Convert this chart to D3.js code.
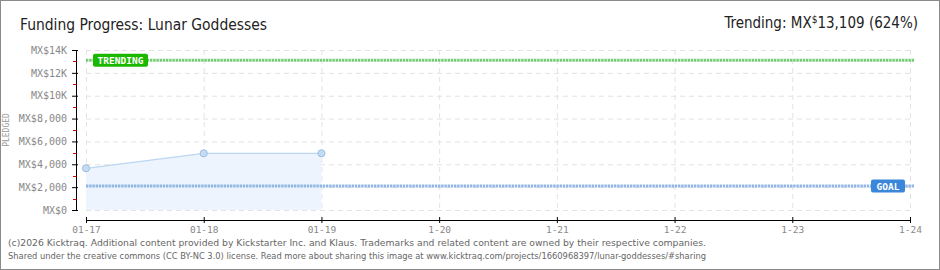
<!DOCTYPE html>
<html>
<head>
<meta charset="utf-8">
<script src="https://cdn.jsdelivr.net/npm/d3@7"></script>
<style>
  body { margin:0; background:#fff; }
  svg { display:block; }
  .grid line { stroke:#e2e2e2; stroke-dasharray:5,4; }
  .tick text { font-family:"DejaVu Sans Mono", monospace; fill:#888; }
</style>
</head>
<body>
<div id="canvas"></div>
<script>
// data
var days = ['01-17','01-18','01-19','1-20','1-21','1-22','1-23','1-24'];
var pledged = [3650, 4960, 4960];   // first three days
var yTicks = [0,2000,4000,6000,8000,10000,12000,14000];
var yLabels = ['MX$0','MX$2,000','MX$4,000','MX$6,000','MX$8,000','MX$10K','MX$12K','MX$14K'];
var goal = 2100;
var trending = 13109;

var W = 940, H = 270;
var m = {t:50, r:30, b:60, l:86};
var w = 910 - m.l, h = 210 - m.t;

var svg = d3.select('#canvas').append('svg')
    .attr('width', W).attr('height', H);

svg.append('rect').attr('x',0.5).attr('y',0.5).attr('width',W-1).attr('height',H-1)
    .attr('fill','#fff').attr('stroke','#8a8a8a');

svg.append('text').attr('x',20).attr('y',30)
    .attr('font-family','"DejaVu Sans Condensed", sans-serif').attr('font-size',16)
    .attr('font-weight',300).attr('fill','#222')
    .attr('textLength',247).attr('lengthAdjust','spacingAndGlyphs')
    .text('Funding Progress: Lunar Goddesses');

var tr = svg.append('text').attr('x',918).attr('y',28).attr('text-anchor','end')
    .attr('font-family','"DejaVu Sans Condensed", sans-serif').attr('font-size',15).attr('fill','#222');
tr.append('tspan').text('Trending:  MX');
tr.append('tspan').attr('font-size',10).attr('dy',-5).text('$');
tr.append('tspan').attr('dy',5).text(d3.format(',')(trending) + ' (' + Math.round(trending/goal*100) + '%)');

var plot = svg.append('g').attr('transform','translate('+m.l+','+m.t+')');

var x = d3.scalePoint().domain(days).range([0,w]);
var y = d3.scaleLinear().domain([0,14000]).range([h,0]);

// grid
var grid = plot.append('g').attr('class','grid');
grid.selectAll('.gy').data(yTicks).enter().append('line')
    .attr('x1',0).attr('x2',w).attr('y1',function(d){return y(d)+0.5}).attr('y2',function(d){return y(d)+0.5});
grid.selectAll('.gx').data(days).enter().append('line')
    .attr('y1',0).attr('y2',h).attr('x1',function(d){return x(d)+0.5}).attr('x2',function(d){return x(d)+0.5});

// area + line
var pts = pledged.map(function(v,i){return {d:days[i], v:v}});
plot.append('path').datum(pts)
    .attr('fill','#edf4fd')
    .attr('d', d3.area().x(function(d){return x(d.d)}).y0(h).y1(function(d){return y(d.v)}));
plot.append('path').datum(pts)
    .attr('fill','none').attr('stroke','#bcd6f2').attr('stroke-width',1.2)
    .attr('d', d3.line().x(function(d){return x(d.d)}).y(function(d){return y(d.v)}));

// goal + trending lines
plot.append('line').attr('x1',0).attr('x2',w+4).attr('y1',y(goal)).attr('y2',y(goal))
    .attr('stroke','#8fb6e4').attr('stroke-width',3).attr('stroke-dasharray','2.4,0.8');
plot.append('line').attr('x1',0).attr('x2',w+4).attr('y1',y(trending)).attr('y2',y(trending))
    .attr('stroke','#74cc74').attr('stroke-width',3).attr('stroke-dasharray','2.4,0.8');

plot.selectAll('.pt').data(pts).enter().append('circle')
    .attr('cx',function(d){return x(d.d)}).attr('cy',function(d){return y(d.v)})
    .attr('r',3.6).attr('fill','#c4dbf5').attr('stroke','#93b3d8').attr('stroke-width',0.8);

// labels on lines
function tag(px, py, bw, col, txt){
  var g = plot.append('g').attr('transform','translate('+px+','+py+')');
  g.append('rect').attr('x',0).attr('y',-6.5).attr('width',bw).attr('height',13).attr('rx',2)
      .attr('fill',col);
  g.append('text').attr('x',bw/2).attr('y',3.5).attr('text-anchor','middle')
      .attr('font-family','"DejaVu Sans Mono", monospace').attr('font-weight','bold')
      .attr('font-size',9.5).attr('fill','#fff').text(txt);
}
tag(7, y(trending), 55, '#1cb800', 'TRENDING');
tag(785, y(goal), 34, '#3a86d8', 'GOAL');

// axes
var ay = d3.axisLeft(y).tickValues(yTicks).tickSize(4).tickPadding(4)
    .tickFormat(function(d,i){return yLabels[i]});
var gy = plot.append('g').attr('transform','translate(-10,0)').call(ay);
gy.select('.domain').attr('stroke','#000').attr('d','M0.5,0V'+h);
gy.selectAll('.tick line').attr('x1',-4).attr('x2',2).attr('stroke','#000');
gy.selectAll('.tick text').attr('font-size',10).attr('x',-9);
gy.selectAll('.minor').data(yTicks.slice(0,-1)).enter().append('line')
    .attr('x1',-3).attr('x2',0.5)
    .attr('y1',function(d){return Math.round(y(d+1000))+0.5}).attr('y2',function(d){return Math.round(y(d+1000))+0.5})
    .attr('stroke','#e00000');

var ax = d3.axisBottom(x).tickSize(4).tickPadding(2);
var gx = plot.append('g').attr('transform','translate(0,'+(h+10)+')').call(ax);
gx.select('.domain').attr('stroke','#000').attr('d','M0.5,0.5H'+(w+0.5));
gx.selectAll('.tick line').attr('y1',-3).attr('y2',3).attr('stroke','#000');
gx.selectAll('.tick text').attr('font-size',9.5);

svg.append('text').attr('transform','translate(9,130) rotate(-90)').attr('text-anchor','middle')
    .attr('font-family','"DejaVu Sans Mono", monospace').attr('font-size',8).attr('fill','#999')
    .text('PLEDGED');

// footer
var foot = ['(c)2026 Kicktraq. Additional content provided by Kickstarter Inc. and Klaus. Trademarks and related content are owned by their respective companies.',
  'Shared under the creative commons (CC BY-NC 3.0) license. Read more about sharing this image at www.kicktraq.com/projects/1660968397/lunar-goddesses/#sharing'];
svg.selectAll('.foot').data(foot).enter().append('text')
    .attr('x',8).attr('y',function(d,i){return 246+i*12.5})
    .attr('font-family','"DejaVu Sans", sans-serif').attr('font-size',9.5).attr('fill','#666')
    .attr('textLength',[698,700][0]).attr('lengthAdjust','spacingAndGlyphs')
    .text(function(d){return d});
</script>
</body>
</html>
